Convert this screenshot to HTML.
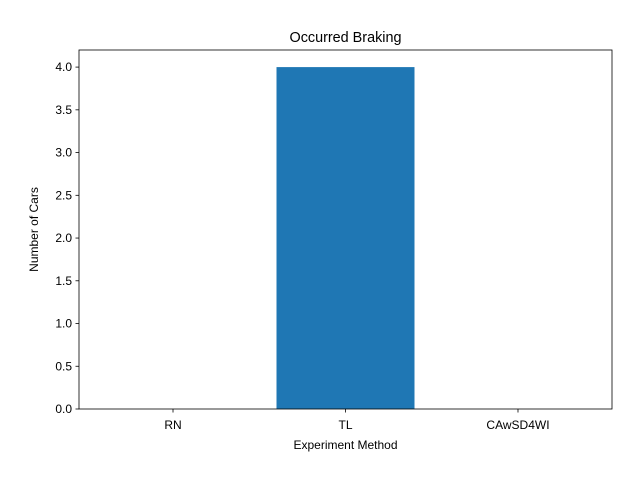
<!DOCTYPE html>
<html><head><meta charset="utf-8"><style>body{margin:0;background:#fff}svg{display:block;font-family:"Liberation Sans","DejaVu Sans",sans-serif}</style></head>
<body>
<svg id="chart" width="640" height="480">
<rect width="640" height="480" fill="#fff"/>
</svg>
<script>
const categories = ["RN", "TL", "CAwSD4WI"];
const values = [0, 4, 0];
const yTicks = [0, 0.5, 1.0, 1.5, 2.0, 2.5, 3.0, 3.5, 4.0];
const yTickLabels = ["0.0","0.5","1.0","1.5","2.0","2.5","3.0","3.5","4.0"];

const L=79, R=612, T=50, B=409;
const xMin=-0.545, xMax=2.545, yMin=0, yMax=4.2;
const sx = v => L + (v - xMin) / (xMax - xMin) * (R - L);
const sy = v => B - (v - yMin) / (yMax - yMin) * (B - T);
const svg = document.getElementById('chart');
const NS = 'http://www.w3.org/2000/svg';
function mk(tag, attrs, text) {
  const e = document.createElementNS(NS, tag);
  for (const k in attrs) e.setAttribute(k, attrs[k]);
  if (text !== undefined) e.textContent = text;
  svg.appendChild(e);
  return e;
}
categories.forEach((c, i) => {
  const x0 = sx(i - 0.4), x1 = sx(i + 0.4);
  const y1 = sy(values[i]), y0 = sy(0);
  const b = mk('rect', {x: x0, y: y1, width: x1 - x0, height: Math.max(0, y0 - y1), fill: '#1f77b4'});
  
  
  mk('line', {x1: sx(i), x2: sx(i), y1: B, y2: B + 3.5, stroke: '#000', 'stroke-width': 0.8});
  const t = mk('text', {x: sx(i), y: B + 20, 'text-anchor': 'middle', 'font-size': 12}, c);
  
  
});
yTicks.forEach((v, i) => {
  mk('line', {x1: L - 3.5, x2: L, y1: sy(v), y2: sy(v), stroke: '#000', 'stroke-width': 0.8});
  const t = mk('text', {x: L - 7, y: sy(v) + 4, 'text-anchor': 'end', 'font-size': 12}, yTickLabels[i]);
  
  
});
const frame = mk('rect', {x: L, y: T, width: R - L, height: B - T, fill: 'none', stroke: '#000', 'stroke-width': 0.8});


const title = mk('text', {x: (L + R) / 2, y: 42, 'text-anchor': 'middle', 'font-size': 14.4}, 'Occurred Braking');


const xt = mk('text', {x: (L + R) / 2, y: 449, 'text-anchor': 'middle', 'font-size': 12}, 'Experiment Method');


const yt = mk('text', {x: 38, y: (T + B) / 2, 'text-anchor': 'middle', 'font-size': 12, transform: 'rotate(-90 38 ' + (T + B) / 2 + ')'}, 'Number of Cars');


</script>
</body></html>
